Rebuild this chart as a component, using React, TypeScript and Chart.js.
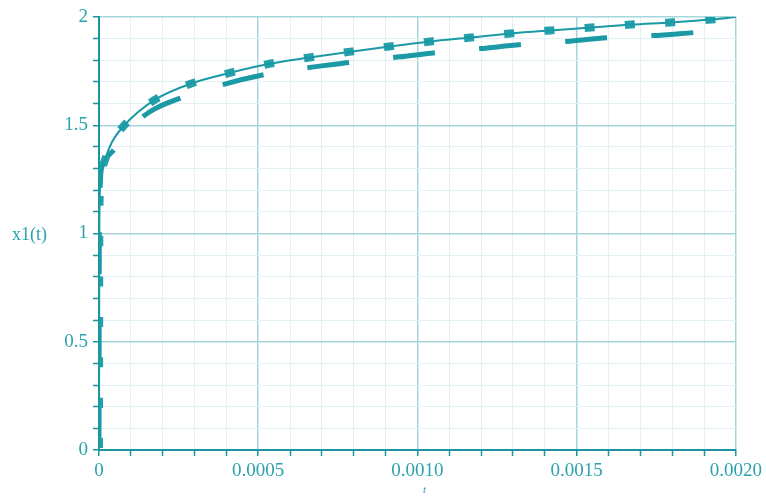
import { useEffect, useRef } from 'react';
import { Chart, registerables } from 'chart.js';

Chart.register(...registerables);

// ---- data ----
const solidT = [0, 0.000001, 0.000003, 0.000008, 0.000019, 0.00004, 0.0000784, 0.000176, 0.000288, 0.000414, 0.000539, 0.000661, 0.00079, 0.000912, 0.001041, 0.001166, 0.001292, 0.001417, 0.001545, 0.001671, 0.001796, 0.001922, 0.002];
const solidX1 = [0, 1.0, 1.2, 1.28, 1.34, 1.42, 1.498, 1.618, 1.692, 1.743, 1.785, 1.813, 1.84, 1.864, 1.887, 1.905, 1.924, 1.938, 1.951, 1.965, 1.975, 1.988, 2.0];

const dottedT = [0, 0.000001, 0.000003, 0.000008, 0.000019, 0.00004, 0.0000784, 0.000176, 0.000288, 0.000414, 0.000539, 0.000661, 0.00079, 0.000912, 0.001041, 0.001166, 0.001292, 0.001417, 0.001545, 0.001671, 0.001796, 0.001922, 0.002];
const dottedX1 = [0, 1.0, 1.2, 1.28, 1.34, 1.42, 1.498, 1.618, 1.692, 1.743, 1.785, 1.813, 1.84, 1.864, 1.887, 1.905, 1.924, 1.938, 1.951, 1.965, 1.975, 1.988, 2.0];

const dashedT = [0, 0.000001, 0.0000094, 0.000047, 0.000138, 0.00026, 0.000389, 0.00052, 0.000655, 0.000787, 0.000944, 0.00106, 0.001197, 0.001329, 0.001467, 0.001599, 0.001737, 0.001868, 0.002];
const dashedX1 = [0, 1.0, 1.309, 1.387, 1.54, 1.628, 1.688, 1.734, 1.766, 1.79, 1.816, 1.836, 1.854, 1.873, 1.887, 1.905, 1.914, 1.928, 1.942];

const xTickLabels = ['0', '0.0005', '0.0010', '0.0015', '0.0020'];
const yTickLabels = ['0', '0.5', '1', '1.5', '2'];
const xTitle = 't';
const yTitle = 'x1(t)';

// ---- styles ----
const LINE = '#1b9aa5';
const MARK = '#23a0aa';
const TEXT = '#2ba3ad';
const AXIS = '#1a96a1';
const MAJOR = '#a4d6db';
const MINOR = '#e2f2f4';
const FONT = '"Liberation Serif", "Times New Roman", serif';

const toPoints = (xs: number[], ys: number[]) => xs.map((x, i) => ({ x, y: ys[i] }));

const titlePlugin = {
  id: 'axisTitlesFlat',
  afterDraw(chart: any) {
    const { ctx, chartArea } = chart;
    ctx.save();
    ctx.fillStyle = TEXT;
    ctx.textAlign = 'center';
    ctx.textBaseline = 'middle';
    ctx.font = `18px ${FONT}`;
    ctx.fillText(yTitle, 29.5, (chartArea.top + chartArea.bottom) / 2 + 2);
    ctx.font = `italic 11px ${FONT}`;
    ctx.fillText(xTitle, (chartArea.left + chartArea.right) / 2 + 7, 490);
    ctx.restore();
  },
};

export default function App() {
  const ref = useRef<HTMLCanvasElement | null>(null);

  useEffect(() => {
    document.body.style.margin = '0';
    const canvas = ref.current;
    if (!canvas) return;
    const chart = new Chart(canvas, {
      type: 'line',
      data: {
        datasets: [
          {
            label: 'solid',
            data: toPoints(solidT, solidX1),
            borderColor: LINE,
            borderWidth: 2,
            pointRadius: 0,
            cubicInterpolationMode: 'monotone',
            fill: false,
          },
          {
            label: 'dotted',
            data: toPoints(dottedT, dottedX1),
            borderColor: MARK,
            borderWidth: 8,
            borderDash: [10, 30.33],
            borderDashOffset: 38.33,
            borderCapStyle: 'butt',
            pointRadius: 0,
            cubicInterpolationMode: 'monotone',
            fill: false,
          },
          {
            label: 'dashed',
            data: toPoints(dashedT, dashedX1),
            borderColor: LINE,
            borderWidth: 5,
            borderDash: [42, 44.4],
            borderDashOffset: 83.4,
            borderCapStyle: 'butt',
            pointRadius: 0,
            cubicInterpolationMode: 'monotone',
            fill: false,
          },
        ],
      },
      options: {
        responsive: false,
        animation: false,
        devicePixelRatio: 1,
        layout: { padding: { top: 17, right: 29, left: 0, bottom: 0 } },
        plugins: {
          legend: { display: false },
          tooltip: { enabled: false },
        },
        scales: {
          x: {
            type: 'linear',
            min: 0,
            max: 0.002,
            afterFit: (s: any) => {
              s.height = 47;
            },
            border: { color: AXIS, width: 2 },
            grid: {
              color: (c: any) => (c.index % 5 === 0 ? MAJOR : MINOR),
              lineWidth: (c: any) => (c.index % 5 === 0 ? 1.5 : 1),
              tickColor: AXIS,
              tickLength: 6,
              tickWidth: 1.5,
            },
            ticks: {
              stepSize: 0.0001,
              autoSkip: false,
              maxRotation: 0,
              padding: 4,
              color: TEXT,
              font: { family: FONT, size: 19 },
              callback: (_v: any, i: number) => (i % 5 === 0 ? xTickLabels[i / 5] : ''),
            },
          },
          y: {
            type: 'linear',
            min: 0,
            max: 2,
            afterFit: (s: any) => {
              s.width = 99;
            },
            border: { color: AXIS, width: 2 },
            grid: {
              color: (c: any) => (c.index % 5 === 0 ? MAJOR : MINOR),
              lineWidth: (c: any) => (c.index % 5 === 0 ? 1.5 : 1),
              tickColor: AXIS,
              tickLength: 6,
              tickWidth: 1.5,
            },
            ticks: {
              stepSize: 0.1,
              autoSkip: false,
              padding: 5,
              color: TEXT,
              font: { family: FONT, size: 19 },
              callback: (_v: any, i: number) => (i % 5 === 0 ? yTickLabels[i / 5] : ''),
            },
          },
        },
      },
      plugins: [titlePlugin],
    });
    return () => chart.destroy();
  }, []);

  return (
    <div style={{ width: 766, height: 497 }}>
      <canvas ref={ref} width={766} height={497} />
    </div>
  );
}
